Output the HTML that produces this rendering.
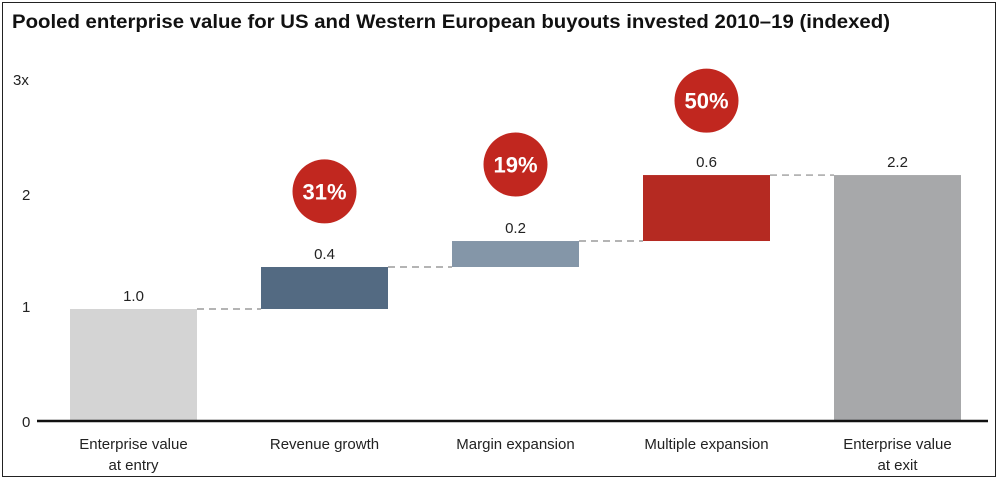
<!DOCTYPE html>
<html><head><meta charset="utf-8"><style>
body{margin:0;width:1000px;height:482px;background:#fff;overflow:hidden;font-family:"Liberation Sans",Arial,sans-serif}
#frame{position:absolute;left:2px;top:2px;width:994px;height:475px;border:1.5px solid #222;box-sizing:border-box}
</style></head><body>
<div id="frame"></div>
<svg id="c" width="1000" height="482" style="position:absolute;left:0;top:0">
<text x="12" y="28" font-size="19.5" font-weight="bold" fill="#111" textLength="878" lengthAdjust="spacingAndGlyphs">Pooled enterprise value for US and Western European buyouts invested 2010–19 (indexed)</text>
</svg>
<script>
const categories=["Enterprise value|at entry","Revenue growth","Margin expansion","Multiple expansion","Enterprise value|at exit"];
const deltas=[1.0,0.375,0.232,0.589,2.196];
const valueLabels=["1.0","0.4","0.2","0.6","2.2"];
const kinds=["total","delta","delta","delta","total"];
const colors=["#d4d4d4","#536a82","#8496a8","#b52a22","#a7a8aa"];
const pctLabels=[null,"31%","19%","50%",null];
const pctValues=[null,2.05,2.29,2.86,null];
const yTicks=[0,1,2,3];
const yTickLabels=["0","1","2","3x"];
const NS="http://www.w3.org/2000/svg";
const svg=document.getElementById('c');
const y0=421,unit=112;
const y=v=>y0-v*unit;
const bx=i=>70+i*191;
const bw=127;
function mk(t,a,p){const e=document.createElementNS(NS,t);for(const k in a)e.setAttribute(k,a[k]);(p||svg).appendChild(e);return e;}
yTicks.forEach((t,i)=>{
 const e=mk('text',{x:i==3?13:22,y:(i==3?y(t)+0:y(t)+3+(t==0?3:0)),'font-size':15,fill:'#222'});
 
 
 e.textContent=yTickLabels[i];
});
let run=0;
const tops=[];
categories.forEach((c,i)=>{
 let lo,hi;
 if(kinds[i]=="total"){lo=0;hi=deltas[i];run=deltas[i];}else{lo=run;hi=run+deltas[i];run=hi;}
 tops.push(hi);
 const r=mk('rect',{x:bx(i),y:y(hi),width:bw,height:y(lo)-y(hi),fill:colors[i]});
 
 
 const t=mk('text',{x:bx(i)+bw/2,y:y(hi)-8,'font-size':15,fill:'#222','text-anchor':'middle'});
 
 
 t.textContent=valueLabels[i];
 c.split('|').forEach((ln,j)=>{
  const l=mk('text',{x:bx(i)+bw/2,y:449+j*21,'font-size':15,fill:'#222','text-anchor':'middle'});
  
  
  l.textContent=ln;
 });
 if(pctLabels[i]){
  const cx=bx(i)+bw/2;
  const ci=mk('circle',{cx:cx,cy:y(pctValues[i]),r:32,fill:'#c1271f'});
  
  
  const pt=mk('text',{x:cx,y:y(pctValues[i])+8,'font-size':22,'font-weight':'bold',fill:'#fff','text-anchor':'middle'});
  
  
  pt.textContent=pctLabels[i];
 }
});
for(let i=0;i<tops.length-1;i++){
 const d=mk('line',{x1:bx(i)+bw,x2:bx(i+1),y1:y(tops[i]),y2:y(tops[i]),stroke:'#888','stroke-width':1.2,'stroke-dasharray':'7,5'});
 
 
}
const ax=mk('line',{x1:37,x2:988,y1:y0,y2:y0,stroke:'#111','stroke-width':2.5});


</script>
</body></html>
